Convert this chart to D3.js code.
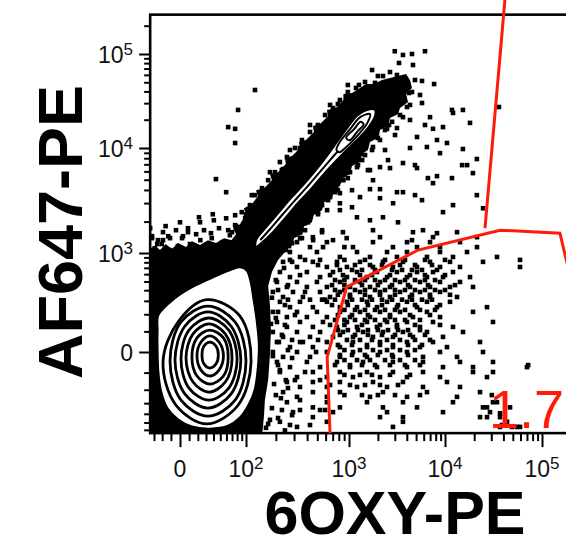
<!DOCTYPE html>
<html><head><meta charset="utf-8">
<script src="https://cdn.jsdelivr.net/npm/d3@7"></script>
<style>body{margin:0;background:#fff}svg{display:block}</style>
</head><body>
<svg id="c" width="566" height="540"></svg>
<script>
// ---------- axes / ticks ----------
const xMajor = [0, 100, 1000, 10000, 100000];
const xMajorLabels = [["0",""],["10","2"],["10","3"],["10","4"],["10","5"]];
const xMinor = [-30,-20,-10,10,20,30,40,50,60,70,80,90,200,300,400,500,600,700,800,900,
  2000,3000,4000,5000,6000,7000,8000,9000,20000,30000,40000,50000,60000,70000,80000,90000,200000];
const yMajor = [0, 1000, 10000, 100000];
const yMajorLabels = [["0",""],["10","3"],["10","4"],["10","5"]];
const yMinor = [-600,-500,-400,-300,-200,-100,100,200,300,400,500,600,700,800,900,
  2000,3000,4000,5000,6000,7000,8000,9000,20000,30000,40000,50000,60000,70000,80000,90000,200000];
const xDomain = [-35, 262144];
const yDomain = [-650, 262144];
const xTitle = "6OXY-PE", yTitle = "AF647-PE", gateLabel = "1.7";

// ---------- dense (solid) event regions ----------
const denseMain = [[-40,-700],[-40,1068],[-28,1165],[-22.6,1068],[-16,1220],[-8.8,1090],[-2.2,1245],[6.6,1140],[13.2,1300],[22.6,1192],[32.5,1330],[43.5,1245],[56,1390],[70,1330],[86,1515],[105,1585],[124,1656],[156,1610],[196,1450],[235,1220],[245,1020],[210,848],[183,632],[168,445],[175,266],[179,107],[175,-14],[168,-141],[156,-275],[153,-414],[146,-700]];
const denseStream = [[66,1272],[78,1515],[72,1730],[86,1890],[100,2350],[95,2680],[115,2930],[133,3490],[127,3980],[153,4160],[183,4950],[175,5660],[210,5900],[250,7040],[245,8030],[287,8390],[342,10000],[334,11580],[390,12160],[465,14800],[454,17140],[531,18000],[633,21900],[617,25400],[752,26600],[885,32400],[885,37500],[1075,38500],[1302,43500],[1503,47900],[1820,47900],[2207,52900],[2674,55600],[3240,58300],[3930,61200],
 [4320,52900],[4530,43500],[3930,37500],[4120,30860],[3400,26600],[3240,23000],[2674,20850],[2550,17140],[2104,15540],[2000,12780],[1655,11580],[1575,9570],[1366,8770],[1302,7360],[1075,6740],[1024,5660],[876,5180],[820,4350],[720,3980],[690,3340],[580,3060],[555,2570],[465,2350],[444,1970],[374,1810],[357,1515],[300,1390],[287,1165],[240,1068],[175,977],[124,1022]];

// ---------- contours ----------
const blobOuter = [[-25,195],[-5.5,327],[17,456],[42,572],[70,680],[86,715],[102,665],[113,493],[121,310],[130,164],[137,33],[133,-87],[124,-202],[107,-318],[86,-446],[63,-546],[35,-588],[13,-558],[-2.2,-467],[-14.4,-344],[-21.5,-216],[-25,-97],[-26,9],[-26,107]];
const blobRings = [
 [[31,310],[86,188],[113,-47],[82,-318],[31,-518],[-4.4,-318],[-19,-47],[-2.2,152]],
 [[32.5,258],[76,152],[100,-42],[76,-275],[32.5,-425],[1.1,-275],[-11,-42],[1.1,152]],
 [[32.5,216],[68,129],[88,-38],[68,-230],[32.5,-344],[5.5,-230],[-5.5,-38],[5.5,129]],
 [[33.8,176],[64,107],[80,-33],[64,-189],[33.8,-275],[9.9,-189],[1.1,-33],[9.9,107]],
 [[33.8,141],[58,87],[70,-28],[58,-152],[33.8,-216],[14.4,-152],[6.6,-28],[14.4,87]],
 [[35,107],[55,67],[63,-23],[55,-118],[35,-164],[19,-118],[13.2,-23],[19,67]],
 [[35,77],[48,47],[55,-19],[48,-87],[35,-118],[23.8,-87],[19,-19],[23.8,47]],
 [[35,47],[43.5,28],[47,-14],[43.5,-57],[35,-77],[27.5,-57],[25,-14],[27.5,28]]
];
const streamOuter = [[127,1330],[164,1810],[214,2450],[280,3340],[366,4440],[476,6040],[606,8210],[770,11580],[975,16700],[1240,22450],[1540,25400],[1866,25400],[1866,21900],[1655,17570],[1302,13090],[950,9570],[720,7200],[543,5290],[417,3890],[319,2930],[245,2150],[187,1585],[140,1220],[127,1140]];
const streamMid = [[140,1330],[175,1690],[229,2300],[300,3120],[390,4160],[508,5660],[661,7680],[785,9340]];
const streamRing = [[760,9600],[803,11200],[1030,16000],[1320,21400],[1655,23000],[1555,18500],[1235,13650],[905,9860],[810,9100]];
const streamCore = [[940,12870],[1140,16040],[1320,19050],[1418,17860],[1228,15060],[1012,12080]];

// ---------- gate ----------
const gatePath = [[661,-650],[620,-24],[950,434],[5240,1068],[36900,1656],[153000,1550],[300000,0]];
const gateLine = [[41500,380000],[25850,1730]];

// ---------- individual events ----------
const upperEvents = [[3000,107000],[3650,97600],[4530,100000],[6190,107000],[3320,80300],[4640,76400],[124,41400],[82,25400],[63,16700],[76,16000],[76,11300],[43.5,5070],[59.5,3810],[21.4,2200],[39,2350],[-19,1330],[2.2,1390],[5760,51700],[7700,47900],[5760,30100],[11800,25400],[15300,25400],[12100,23600],[18100,18500],[36000,27300],[6980,21300],[6190,17570],[7500,16000],[9530,16700],[3650,21300],[3160,16300],[2490,16000],[5110,13100],[4320,10000],[6480,10250],[8250,12160],[10480,11300],[8870,8940],[15300,9780],[21300,7860],[15000,6880],[16900,6880],[19400,5780],[8250,5410],[6640,5180],[7500,4640],[11800,5180],[3650,7200],[4870,6880],[5110,6450],[2550,7680],[2674,6450],[2104,6590],[1655,6170],[1780,4950],[1655,4070],[2104,4070],[3160,3810],[3650,3810],[4870,3570],[5760,3200],[2880,2990],[2104,3340],[1302,3420],[1075,2740],[820,2990],[1210,2200],[1655,2060],[2260,2200],[3240,1970],[1780,1656],[4530,1330],[5900,1656],[8250,1550],[12100,2870],[9530,2460],[21300,3570],[24700,2680],[950,1390],[705,1330],[567,1140],[905,1140],[456,1330],[382,1656],[555,1656],[319,2060],[426,2200],[620,2570],[820,3730],[633,3200]];
const streamEvents = [[76,1850],[90,2460],[110,2870],[124,3570],[146,4160],[168,4950],[196,5900],[219,7360],[256,8210],[306,10000],[357,12160],[426,14800],[508,17570],[593,22450],[705,26600],[820,32400],[975,39400],[1183,43500],[1468,50400],[2000,58300],[2674,64300],[66,1484],[98,2150],[146,3340],[229,6170],[342,9570],[531,15540],[770,25400],[1155,33900],[4530,39400],[4320,28700],[3400,22450],[2810,19000],[2372,15540],[2000,12800],[1740,9570],[1468,8570],[1240,6880],[1024,5900],[885,4950],[752,4160],[661,3420],[555,2870],[476,2460],[408,1970],[342,1585],[287,1245],[4870,52900],[3015,24200],[2104,12160],[1370,7680],[975,5180],[737,3810],[508,2460],[357,1390],[250,1068],
 [88,1656],[100,2350],[140,2870],[156,3890],[210,4640],[235,6310],[313,7360],[342,10000],[454,12160],[508,17150],[690,20860],[785,29400],[1075,35700],[1270,46800],[1866,49300],[2260,58300],[3160,59800],
 [4220,38500],[4020,27300],[2940,23600],[2610,17570],[1957,14450],[1778,10250],[1335,8770],[1212,6590],[876,5530],[785,3980],[580,3270],[508,2350],[382,1930],[342,1390],[268,1165],
 [76,2300],[115,3570],[175,5900],[274,9570],[426,17570],[661,28700],[975,46800],[1740,67600],[5490,36650],[4320,19860],[3015,13750],[2372,9570],[1575,6170],[1075,3980],[820,2570],[555,1585]];
const blobEvents = [[200,955],[240,698],[210,402],[245,266],[200,176],[229,82],[262,9],[210,-62],[250,-141],[200,-237],[229,-362],[274,-532],[175,-467],[160,-571],[-29,1110],[-20.5,1220],[-11,1068],[-2.2,1165],[11,1220],[23,1330],[37.6,1390],[53,1272],[70,1585],[-13,1450],[8.8,1585],[-32.6,1390],[287,809],[342,586],[262,456],[382,382],[306,195],[245,135],[342,47],[287,-28],[382,-97],[262,-189],[342,-275],[287,-414],[426,-532],[508,750],[555,310],[487,0],[661,-170],[531,-362],
 [-32.6,1450],[-25,1330],[-19,1585],[-11,1390],[-4.4,1656],[3.3,1450],[8.8,1730],[18,1515],[27.5,1656],[36.5,1550],[48,1730],[63,1656],[78,1810],[95,1890],[-35,1730],[-16,1810],[0,1970],[22.6,1970],[40.5,2060],[59.5,2150],[-26,1220],
 [175,809],[200,518],[183,327],[210,216],[179,141],[214,47],[187,-19],[219,-87],[192,-164],[224,-260],[183,-344],[210,-446],[168,-518],[245,-608]];
const rightEvents = [[31250,-97],[30400,-237],[34350,-292],[27100,-337],[36910,-394],[46800,-337],[27100,-436],[38700,-532],[49000,-558],[59350,-558],[59350,848],[72000,-62]];
// events of the gated cloud, grouped by y level: [y, [x...]]
const cloudRows = [
 [1585,[342,876,4640,13300]],[1420,[454,2104,7500,21370]],
 [1272,[320,617,1778,4020,6980,14280]],[1140,[426,1100,2870,5110,8870,21370]],
 [1022,[274,496,1212,2490,4020,8870,16860]],[910,[342,820,1655,3160,6490,12090,34350]],
 [809,[235,454,769,1302,2260,3650,6980,11260,24650]],[715,[320,617,956,1778,2870,5110,8870,14280,59350]],
 [632,[219,398,705,1212,1957,3160,5110,7500,12090]],[558,[274,531,956,1540,2490,4020,6490,9530,18100]],
 [494,[205,320,496,820,1302,2104,3400,5490,8870,14280]],[435,[256,398,617,1024,1655,2674,4320,6980,11260,19440]],
 [382,[187,293,531,820,1302,2104,3400,5490,8870]],[334,[235,365,661,1024,1655,2674,4320,6980,13300]],
 [292,[219,342,617,956,1540,2490,4020,6490,11260]],[250,[274,454,820,1212,1957,3160,5110,8250,27100]],
 [216,[187,320,496,820,1302,2104,3400,6490,19440]],[182,[256,398,617,1024,1655,2674,4640,8870]],
 [152,[205,342,566,956,1540,2490,4020,7500,31250]],[124,[256,454,769,1212,1957,3160,5490,12090]],
 [97,[187,320,531,876,1400,2260,3650,6490,15330]],[72,[235,426,705,1100,1778,2870,4640,9530]],
 [47,[205,365,617,1100,2104,4020,7500,22960]],[23,[274,454,820,1540,2870,5490,10480]],
 [0,[187,320,617,1100,2104,4020,8870,24650]],[-23,[235,426,820,1540,2870,5900,13300]],
 [-47,[205,398,769,1400,2870,5900,14280,31250]],[-72,[274,531,1024,1957,4020,9530,19440,70000]],
 [-97,[219,454,820,1540,2870,5900,19440]],[-124,[320,617,1100,2104,4020,8870,27100]],
 [-152,[256,454,820,1778,3650,10480]],[-182,[342,617,1212,2490,5900,14280]],
 [-216,[235,454,820,2260,6490,22960]],[-250,[320,617,1655,4020,13300]],
 [-292,[256,617,1540,3650,12090,31250]],[-337,[454,820,2260,5110,24650]],
 [-383,[293,705,2490,9530,29110]],[-436,[454,2104,3650,22960,36910]],
 [-491,[219,617,3650,43600]],[-558,[320,2870,36910,55300]],
 [848,[274,382,531,905,1468,2372,3833,6190,10000]],
 [750,[769,1155,1655,2207,3400,4870,7320]],
 [665,[820,1075,1366,1866,2808,3570,4530,5760,8250]],
 [586,[661,876,1302,1736,2674,4320,6190,10000]],
 [518,[737,905,1155,1468,1866,2372,3015,3833,4870,6190,7870]],
 [456,[690,905,1366,2000,2808,4120,6650,12680]],
 [402,[737,905,1155,1468,1866,2372,3015,3833,4870,6190,7870,10000]],
 [354,[785,1024,1468,2104,3015,4530,6980,11260]],
 [310,[262,426,593,737,1075,1366,1736,2207,2808,3570,4530,5760,7320]],
 [266,[690,975,1575,2207,3240,4870,8870]],
 [230,[905,1155,1468,1866,2372,3015,3833,5490,7870]],
 [195,[785,1075,1575,2674,4320,6980]],
 [164,[737,905,1155,1468,1866,2372,3015,3833,5490]],
 [135,[661,905,1366,2104,3160,4870,8870]],
 [107,[785,975,1240,1575,2000,2550,3240,4120,5490]],
 [82,[820,1155,1575,2207,3015,4320,6190]],
 [57,[287,508,956,1302,1736,2490,3400,4870,6980]],
 [33,[785,1075,1540,2104,2870,4120,5760]],
 [9,[905,1302,1778,2490,3400,4870]],
 [-14,[820,1075,1468,2000,2808,4120]],
 [-38,[905,1212,1655,2372,3400,4870]],
 [-62,[737,1024,1366,1866,2674,3833,5490]],
 [-112,[905,1302,1736,2674,4320]],
 [-141,[306,531]],
 [-170,[1024,1468,2104,3240]],
 [-237,[905,1366,2000,3015,5490]],
 [-362,[342,593]]
];

// ---------- scales (biexponential display: asinh transform, piecewise per decade) ----------
const tx = v => Math.asinh(v / 50), ty = v => Math.asinh(v / 200);
const xs = d3.scaleLinear().domain(xMajor.map(tx)).range([180, 246, 349, 445, 542]);
const ys = d3.scaleLinear().domain(yMajor.map(ty)).range([352, 253, 148, 54]);
const X = v => xs(tx(v)), Y = v => ys(ty(v));

const pL = X(xDomain[0]), pR = X(xDomain[1]), pT = Y(yDomain[1]), pB = Y(yDomain[0]);
const svg = d3.select("#c");
const FONT = "'Liberation Sans', Arial, Helvetica, sans-serif";

svg.append("defs").append("clipPath").attr("id","plot").append("rect")
  .attr("x", pL).attr("y", pT).attr("width", pR-pL).attr("height", pB-pT);
const g = svg.append("g").attr("clip-path","url(#plot)");

const poly = d3.line().x(d => X(d[0])).y(d => Y(d[1])).curve(d3.curveLinearClosed);
const smooth = d3.line().x(d => X(d[0])).y(d => Y(d[1])).curve(d3.curveCatmullRomClosed.alpha(0.5));
const openL = d3.line().x(d => X(d[0])).y(d => Y(d[1])).curve(d3.curveCatmullRom.alpha(0.5));
const straight = d3.line().x(d => X(d[0])).y(d => Y(d[1]));

// dense regions
g.selectAll("path.dense").data([denseMain, denseStream]).join("path")
  .attr("class","dense").attr("d", poly).attr("fill","#000");

// events
const events = upperEvents.concat(streamEvents, blobEvents, rightEvents,
  cloudRows.flatMap(([yv, xsv]) => xsv.map(xv => [xv, yv])));
const S = 4.6;
g.selectAll("rect.ev").data(events).join("rect").attr("class","ev")
  .attr("x", d => X(d[0]) - S/2).attr("y", d => Y(d[1]) - S/2)
  .attr("width", S).attr("height", S).attr("fill","#000");

// main population contours
g.append("path").attr("d", smooth(blobOuter)).attr("fill","#fff").attr("stroke","#000").attr("stroke-width",2.8);
g.selectAll("path.ring").data(blobRings).join("path").attr("class","ring")
  .attr("d", smooth).attr("fill","none").attr("stroke","#000").attr("stroke-width",2.8);

// diagonal population contours
g.append("path").attr("d", smooth(streamOuter)).attr("fill","#fff").attr("stroke","#000").attr("stroke-width",2);
g.append("path").attr("d", openL(streamMid)).attr("fill","none").attr("stroke","#000").attr("stroke-width",2);
g.append("path").attr("d", smooth(streamRing)).attr("fill","none").attr("stroke","#000").attr("stroke-width",2);
g.append("path").attr("d", smooth(streamCore)).attr("fill","none").attr("stroke","#000").attr("stroke-width",2);

// frame
svg.append("rect").attr("x", pL).attr("y", pT).attr("width", pR-pL).attr("height", pB-pT)
  .attr("fill","none").attr("stroke","#000").attr("stroke-width",2.6);

// axes
function styleAxis(sel){ sel.select(".domain").remove(); sel.selectAll(".tick line").attr("stroke","#000").attr("stroke-width",2); }
svg.append("g").attr("transform",`translate(0,${pB})`)
  .call(d3.axisBottom(xs).tickValues(xMinor.map(tx)).tickSize(8).tickSizeOuter(0).tickFormat(""))
  .call(styleAxis);
svg.append("g").attr("transform",`translate(0,${pB})`)
  .call(d3.axisBottom(xs).tickValues(xMajor.map(tx)).tickSize(14).tickSizeOuter(0).tickFormat(""))
  .call(styleAxis);
svg.append("g").attr("transform",`translate(${pL},0)`)
  .call(d3.axisLeft(ys).tickValues(yMinor.map(ty)).tickSize(6).tickSizeOuter(0).tickFormat(""))
  .call(styleAxis);
svg.append("g").attr("transform",`translate(${pL},0)`)
  .call(d3.axisLeft(ys).tickValues(yMajor.map(ty)).tickSize(11).tickSizeOuter(0).tickFormat(""))
  .call(styleAxis);

function label(sel){
  sel.each(function(d){
    const t = d3.select(this);
    t.append("tspan").text(d[1][0]);
    if (d[1][1]) t.append("tspan").attr("dy",-8).attr("font-size",17).text(d[1][1]);
  });
}
svg.selectAll("text.xl").data(xMajor.map((v,i)=>[v,xMajorLabels[i]])).join("text").attr("class","xl")
  .attr("x", d => X(d[0])).attr("y", 477).attr("text-anchor","middle")
  .attr("font-family", FONT).attr("font-size", 23).attr("fill","#111").call(label);
svg.selectAll("text.yl").data(yMajor.map((v,i)=>[v,yMajorLabels[i]])).join("text").attr("class","yl")
  .attr("x", 133).attr("y", d => Y(d[0]) + 8.5).attr("text-anchor","end")
  .attr("font-family", FONT).attr("font-size", 23).attr("fill","#111").call(label);

// gate
svg.append("path").attr("d", straight(gatePath)).attr("fill","none").attr("stroke","#ff1a0a").attr("stroke-width",3);
svg.append("path").attr("d", straight(gateLine)).attr("fill","none").attr("stroke","#ff1a0a").attr("stroke-width",3);
svg.append("text").attr("x", 489).attr("y", 428).attr("font-family", FONT).attr("font-size", 54)
  .attr("fill","#ff1a0a").text(gateLabel);

// axis titles
svg.append("text").attr("transform","translate(82,232) rotate(-90)").attr("text-anchor","middle")
  .attr("font-family", FONT).attr("font-weight","bold").attr("font-size",63).attr("fill","#000").text(yTitle);
svg.append("text").attr("x",395).attr("y",534).attr("text-anchor","middle")
  .attr("font-family", FONT).attr("font-weight","bold").attr("font-size",61).attr("fill","#000").text(xTitle);
</script>
</body></html>
